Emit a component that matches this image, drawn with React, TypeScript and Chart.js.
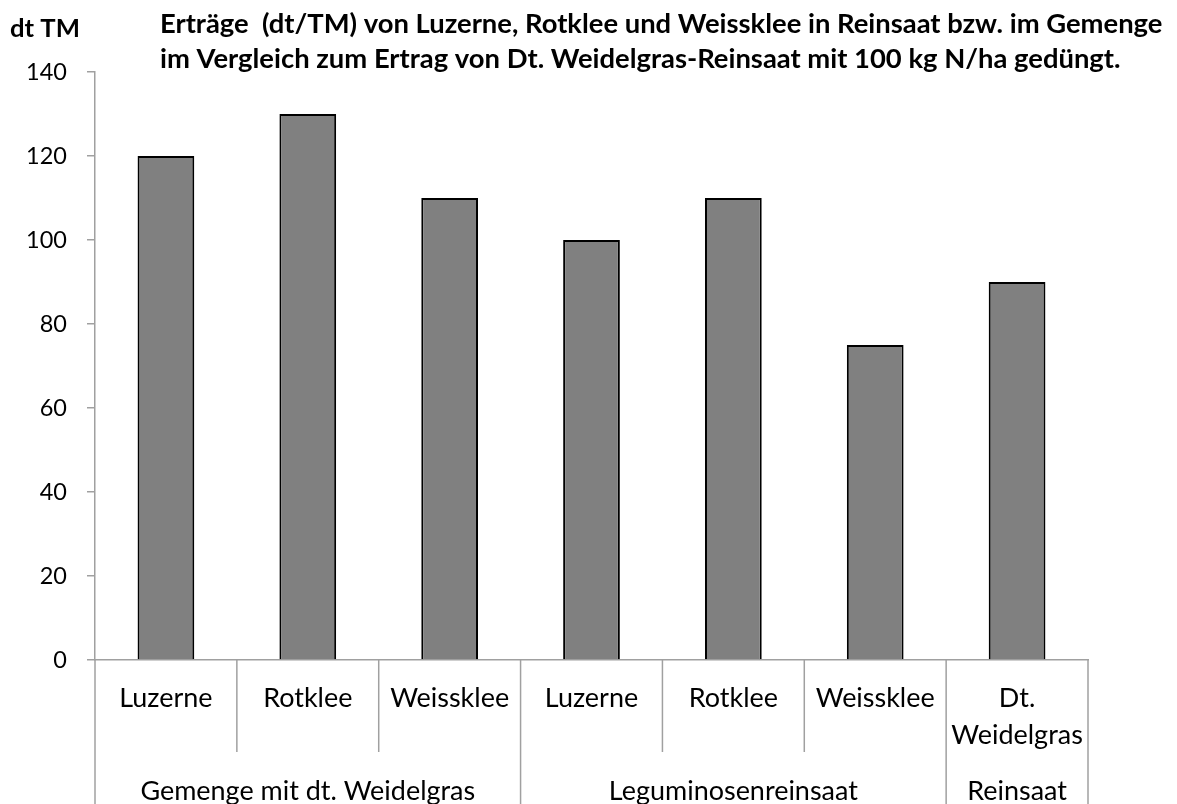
import React, { useEffect, useRef } from "react";
import { Chart, registerables } from "chart.js";

Chart.register(...registerables);

const categories: (string | string[])[] = [
  "Luzerne",
  "Rotklee",
  "Weissklee",
  "Luzerne",
  "Rotklee",
  "Weissklee",
  ["Dt.", "Weidelgras"],
];
const values = [120, 130, 110, 100, 110, 75, 90];
const groupLabels = ["Gemenge mit dt. Weidelgras", "Leguminosenreinsaat", "Reinsaat"];
const groupStarts = [0, 3, 6];
const groupEnds = [2, 5, 6];
const yMin = 0;
const yMax = 140;
const yStep = 20;
const yAxisTitle = "dt TM";
const titleLines = [
  "Erträge  (dt/TM) von Luzerne, Rotklee und Weissklee in Reinsaat bzw. im Gemenge",
  "im Vergleich zum Ertrag von Dt. Weidelgras-Reinsaat mit 100 kg N/ha gedüngt.",
];

const FAMILY = "Lato, 'Open Sans', 'DejaVu Sans', sans-serif";

function fitSize(text: string, target: number, weight: string): number {
  const c = document.createElement("canvas");
  const ctx = c.getContext("2d")!;
  ctx.font = `${weight} 100px ${FAMILY}`;
  const w = ctx.measureText(text).width;
  return (100 * target) / w;
}

export default function App() {
  const ref = useRef<HTMLCanvasElement | null>(null);

  useEffect(() => {
    document.body.style.margin = "0";
    const labelSize = fitSize("Weissklee", 119, "normal");
    const tickSize = 23.5;
    const titleSize = fitSize(titleLines[0], 1003, "bold");
    const axisTitleSize = fitSize(yAxisTitle, 70, "bold");

    const multiLevel = {
      id: "multiLevel",
      afterDraw(chart: any) {
        const ctx = chart.ctx;
        const x = chart.scales.x;
        const area = chart.chartArea;
        const n = categories.length;
        const bounds: number[] = [];
        for (let i = 0; i <= n; i++) {
          if (i === 0) bounds.push(area.left);
          else if (i === n) bounds.push(area.right);
          else bounds.push((x.getPixelForValue(i - 1) + x.getPixelForValue(i)) / 2);
        }
        const edgeIdx = new Set<number>([...groupStarts, n]);
        ctx.save();
        ctx.strokeStyle = "#a0a0a0";
        ctx.lineWidth = 1.5;
        bounds.forEach((b, i) => {
          ctx.beginPath();
          ctx.moveTo(b, area.bottom);
          ctx.lineTo(b, edgeIdx.has(i) ? chart.height : area.bottom + 92);
          ctx.stroke();
        });
        ctx.fillStyle = "#000";
        ctx.textAlign = "center";
        ctx.textBaseline = "middle";
        ctx.font = `normal ${labelSize}px ${FAMILY}`;
        categories.forEach((c, i) => {
          const cx = x.getPixelForValue(i);
          const lines = Array.isArray(c) ? c : [c];
          lines.forEach((l, j) => {
            ctx.fillText(l, cx, area.bottom + 38 + j * 37);
          });
        });
        groupLabels.forEach((g, k) => {
          const cx = (bounds[groupStarts[k]] + bounds[groupEnds[k] + 1]) / 2;
          ctx.fillText(g, cx, area.bottom + 131);
        });
        ctx.textAlign = "left";
        ctx.textBaseline = "alphabetic";
        ctx.font = `bold ${titleSize}px ${FAMILY}`;
        titleLines.forEach((t, j) => {
          ctx.fillText(t, 160, 33 + j * 35);
        });
        ctx.font = `bold ${axisTitleSize}px ${FAMILY}`;
        ctx.fillText(yAxisTitle, 10, 37);
        ctx.restore();
      },
    };

    const chart = new Chart(ref.current!, {
      type: "bar",
      data: {
        labels: categories as any,
        datasets: [
          {
            data: values,
            backgroundColor: "#808080",
            borderColor: "#000000",
            borderWidth: 2,
            barPercentage: 0.4,
            categoryPercentage: 1,
          },
        ],
      },
      options: {
        animation: false,
        responsive: false,
        maintainAspectRatio: false,
        layout: { padding: { top: 72, right: 89, left: 0, bottom: 0 } },
        plugins: {
          legend: { display: false },
          title: { display: false },
          tooltip: { enabled: false },
        },
        scales: {
          x: {
            ticks: { display: false },
            grid: { display: false },
            border: { display: true, color: "#a0a0a0", width: 1.5 },
            afterFit: (s: any) => {
              s.height = 144;
            },
          },
          y: {
            min: yMin,
            max: yMax,
            ticks: {
              stepSize: yStep,
              color: "#000",
              padding: 20,
              font: { family: FAMILY, size: tickSize },
            },
            grid: {
              display: true,
              drawOnChartArea: false,
              drawTicks: true,
              tickLength: 8,
              color: "#a0a0a0",
              lineWidth: 1.5,
            },
            border: { display: true, color: "#a0a0a0", width: 1.5 },
            afterFit: (s: any) => {
              s.width = 95;
            },
          },
        },
      },
      plugins: [multiLevel],
    });
    return () => chart.destroy();
  }, []);

  return (
    <div style={{ width: 1177, height: 804 }}>
      <canvas ref={ref} width={1177} height={804} style={{ display: "block" }} />
    </div>
  );
}
